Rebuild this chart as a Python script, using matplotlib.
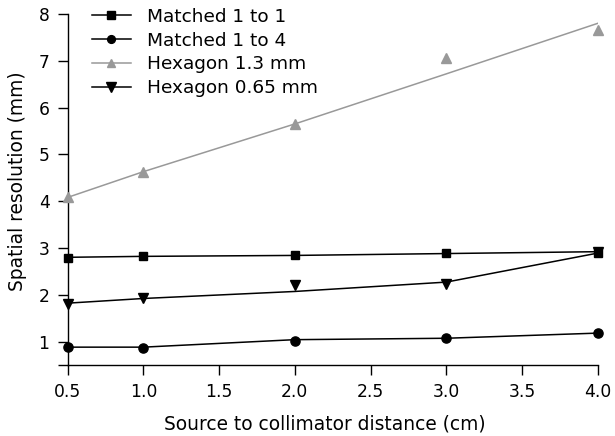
import matplotlib
matplotlib.use("Agg")
import matplotlib.pyplot as plt

plt.rcParams['font.family'] = ['DejaVu Sans']

distance = [0.5, 1.0, 2.0, 3.0, 4.0]

# measured points
matched_1to1 = [2.79, 2.83, 2.84, 2.90, 2.89]
matched_1to4 = [0.88, 0.87, 1.02, 1.08, 1.18]
hexagon_13 = [4.08, 4.63, 5.65, 7.05, 7.65]
hexagon_065 = [1.80, 1.92, 2.20, 2.22, 2.92]

# drawn (trend) lines
matched_1to1_line = [2.80, 2.82, 2.84, 2.88, 2.92]
matched_1to4_line = [0.88, 0.88, 1.04, 1.07, 1.18]
hexagon_13_line = [4.08, 4.63, 5.65, 6.72, 7.80]
hexagon_065_line = [1.82, 1.92, 2.07, 2.27, 2.89]

labels = ["Matched 1 to 1", "Matched 1 to 4", "Hexagon 1.3 mm", "Hexagon 0.65 mm"]
xticks = [0.5, 1.0, 1.5, 2.0, 2.5, 3.0, 3.5, 4.0]
yticks = [0.5, 1, 2, 3, 4, 5, 6, 7, 8]
ytick_labels = ["", "1", "2", "3", "4", "5", "6", "7", "8"]

fig = plt.figure(figsize=(6.15, 4.36), dpi=100)
ax = fig.add_axes([0.110, 0.163, 0.862, 0.805])

series = [
    (matched_1to1, matched_1to1_line, 's', 'black', 6.3),
    (matched_1to4, matched_1to4_line, 'o', 'black', 6.6),
    (hexagon_13, hexagon_13_line, '^', '#999999', 7.3),
    (hexagon_065, hexagon_065_line, 'v', 'black', 7.6),
]
handles = []
for pts, line, mk, col, ms in series:
    ax.plot(distance, line, '-', color=col, lw=1.1, zorder=2)
    ax.plot(distance, pts, mk, color=col, ms=ms, lw=0, zorder=3, clip_on=False)
    h, = ax.plot([], [], '-', marker=mk, color=col, ms=ms - 1, lw=1.1)
    handles.append(h)

ax.set_xlim(0.5, 4.0)
ax.set_ylim(0.5, 8)
ax.set_xticks(xticks)
ax.set_xticklabels([f"{v:.1f}" for v in xticks])
ax.set_yticks(yticks)
ax.set_yticklabels(ytick_labels)
ax.spines['top'].set_visible(False)
ax.spines['right'].set_visible(False)
for s in ('left', 'bottom'):
    ax.spines[s].set_linewidth(1.0)
ax.tick_params(axis='both', labelsize=12.3, length=7, width=1.0, direction='out', pad=6)
ax.set_xlabel("Source to collimator distance (cm)", fontsize=13.4, labelpad=10)
ax.set_ylabel("Spatial resolution (mm)", fontsize=13.4, labelpad=8)
ax.xaxis.label.set_x(0.485)
ax.yaxis.label.set_y(0.524)

ax.legend(handles, labels, loc='upper left', frameon=False, fontsize=13.3,
          handlelength=2.13, handletextpad=0.85, labelspacing=0.32,
          borderpad=0.0, borderaxespad=0.0, bbox_to_anchor=(0.0453, 1.018))

fig.savefig("out.png", dpi=100)
